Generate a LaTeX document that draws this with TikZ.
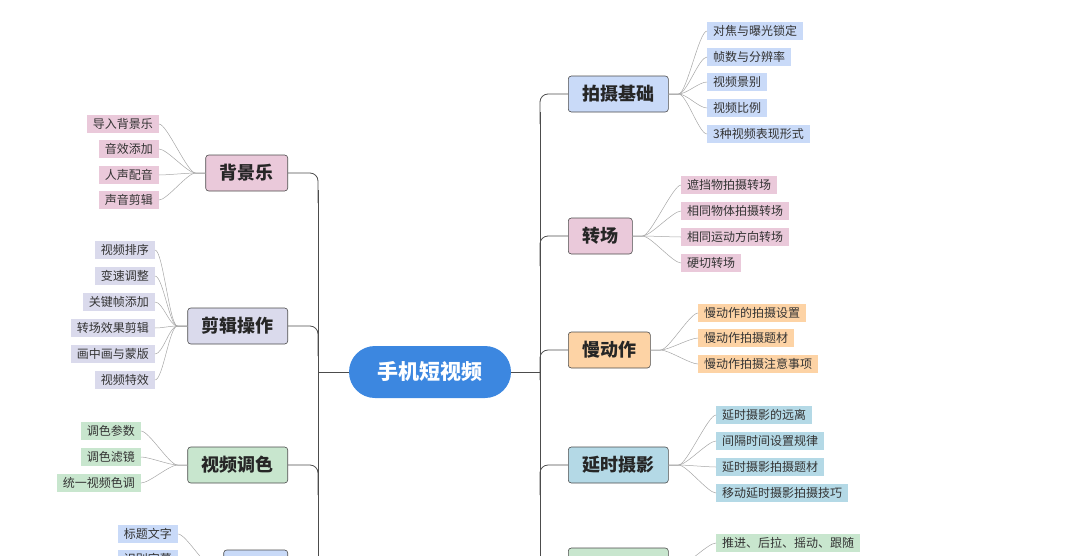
\documentclass[tikz,border=0pt]{standalone}
\usepackage{fontspec}
\setmainfont{Noto Sans CJK SC}
\usetikzlibrary{positioning}
\definecolor{cblue}{HTML}{C9DAF8}
\definecolor{cpink}{HTML}{EAC9DA}
\definecolor{corange}{HTML}{FDD3A5}
\definecolor{cteal}{HTML}{B4D9E6}
\definecolor{cgreen}{HTML}{C8E6CE}
\definecolor{clav}{HTML}{DADAEC}
\definecolor{croot}{HTML}{3C87E0}
\tikzset{
  rootbox/.style={draw=none,fill=croot,rounded corners=26pt,minimum width=162pt,minimum height=52pt,text=white,font=\bfseries\fontsize{21}{23}\selectfont},
  mainbox/.style={draw=black!70,line width=0.6pt,rounded corners=3pt,minimum height=36pt,inner xsep=14pt,font=\bfseries\fontsize{18}{20}\selectfont,text=black!85},
  leafbox/.style={inner xsep=6pt,minimum height=18pt,inner ysep=0pt,font=\fontsize{12}{14}\selectfont,text=black!80},
  trunk/.style={draw=black!70,line width=0.8pt},
  twig/.style={draw=black!35,line width=0.5pt}
}
\begin{document}
\begin{tikzpicture}[x=1pt,y=-1pt]
\useasboundingbox (0,0) rectangle (1080,555);
\clip (0,0) rectangle (1080,555);

% root
\node[rootbox] (root) at (430,372) {手机短视频};

% right trunk
\coordinate (rt) at (540,372);
\draw[trunk] (root.east) -- (rt);
\draw[trunk] (540,112) -- (540,600);
\foreach \y/\nm/\txt/\col in {94/shoot/拍摄基础/cblue,236/trans/转场/cpink,350/slow/慢动作/corange,465/delay/延时摄影/cteal,566/move/运镜技巧/cgreen}{
  \node[mainbox,fill=\col,anchor=west] (\nm) at (568,\y) {\txt};
  \draw[trunk,rounded corners=8pt] (540,\y+30) -- (540,\y) -- (\nm.west);
}

% left trunk
\coordinate (lt) at (318,372);
\draw[trunk] (root.west) -- (lt);
\foreach \y/\nm/\txt/\col in {173/music/背景乐/cpink,326/edit/剪辑操作/clav,465/grade/视频调色/cgreen,568/title/字幕/cblue}{
  \node[mainbox,fill=\col,anchor=east] (\nm) at (288,\y) {\txt};
  \draw[trunk,rounded corners=8pt] (\nm.east) -- (318,\y) -- (318,\y+30);
}
\draw[trunk] (318,190) -- (318,600);

% right leaves
\foreach \nm/\x/\col/\list in {
  shoot/707/cblue/{31/对焦与曝光锁定,57/帧数与分辨率,82/视频景别,108/视频比例,134/3种视频表现形式},
  trans/681/cpink/{185/遮挡物拍摄转场,211/相同物体拍摄转场,237/相同运动方向转场,263/硬切转场},
  slow/698/corange/{313/慢动作的拍摄设置,338/慢动作拍摄题材,364/慢动作拍摄注意事项},
  delay/716/cteal/{415/延时摄影的远离,441/间隔时间设置规律,467/延时摄影拍摄题材,493/移动延时摄影拍摄技巧},
  move/716/cgreen/{543/推进、后拉、摇动、跟随}}{
  \foreach \y/\txt [count=\i] in \list{
    \node[leafbox,fill=\col,anchor=west] (\nm-\i) at (\x,\y) {\txt};
    \draw[twig] (\nm.east) -- ++(10,0) .. controls +(8,0) and +(-8,0) .. (\nm-\i.west);
  }
}

% left leaves
\foreach \nm/\x/\col/\list in {
  music/159/cpink/{124/导入背景乐,149/音效添加,175/人声配音,200/声音剪辑},
  edit/155/clav/{250/视频排序,276/变速调整,302/关键帧添加,328/转场效果剪辑,354/画中画与蒙版,380/视频特效},
  grade/141/cgreen/{431/调色参数,457/调色滤镜,483/统一视频色调},
  title/178/cblue/{534/标题文字,559/识别字幕}}{
  \foreach \y/\txt [count=\i] in \list{
    \node[leafbox,fill=\col,anchor=east] (\nm-\i) at (\x,\y) {\txt};
    \draw[twig] (\nm.west) -- ++(-10,0) .. controls +(-8,0) and +(8,0) .. (\nm-\i.east);
  }
}
\end{tikzpicture}
\end{document}
